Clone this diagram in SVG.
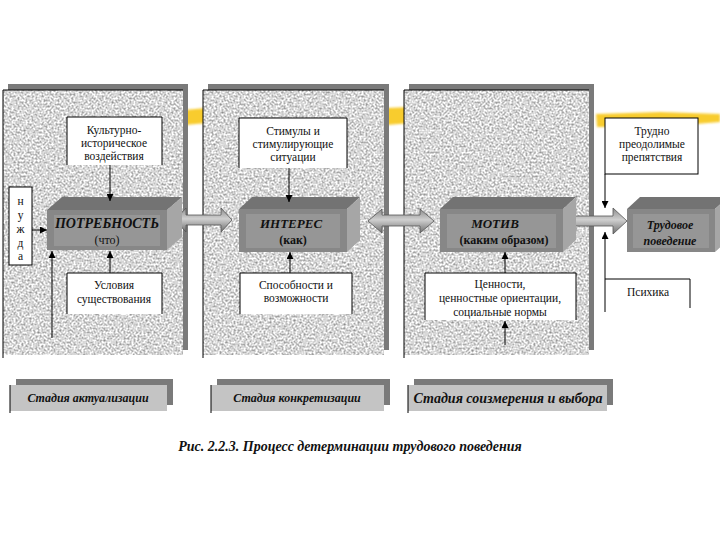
<svg xmlns="http://www.w3.org/2000/svg" width="720" height="540" viewBox="0 0 720 540">
<style>
  .t { font-family: "Liberation Serif", "DejaVu Serif", "Noto Serif", serif; fill: #111; text-anchor: middle; }
  .s11 { font-size: 11.5px; }
  .bi { font-weight: bold; font-style: italic; }
  .b { font-weight: bold; }
  .edge { stroke: #000; stroke-width: 1; fill: none; }
  .wbox { fill: #ffffff; }
  .shadow { fill: #7a7a7a; }
  .panel { fill: #d8d8d8; }
  .ftop { fill: #737373; }
  .ffront { fill: #878787; }
  .finner { fill: #969696; }
  .fside { fill: #a6a6a6; }
  .stage { fill: #c4c4c4; }
  .blk { fill: url(#blockGrad); stroke: #555; stroke-width: 0.8; }
  .yel { fill: #f7c718; opacity: 0.9; }
</style>
<defs>
  <marker id="ah" viewBox="0 0 10 10" refX="10" refY="5" markerWidth="7" markerHeight="7" orient="auto" markerUnits="userSpaceOnUse">
    <path d="M0,0 L10,5 L0,10 z" fill="#000"/>
  </marker>
  <linearGradient id="blockGrad" x1="0" y1="0" x2="0" y2="1">
    <stop offset="0" stop-color="#8a8a8a"/>
    <stop offset="0.45" stop-color="#d0d0d0"/>
    <stop offset="1" stop-color="#6e6e6e"/>
  </linearGradient>
  <filter id="grain" x="0" y="0" width="100%" height="100%" color-interpolation-filters="sRGB">
    <feTurbulence type="fractalNoise" baseFrequency="0.5" numOctaves="3" seed="7" result="n"/>
    <feColorMatrix in="n" type="matrix" values="0.85 0 0 0 0.42  0.85 0 0 0 0.42  0.85 0 0 0 0.42  0 0 0 0 1" result="g"/>
    <feComposite in="g" in2="SourceGraphic" operator="in"/>
  </filter>
  <filter id="soft" x="-20%" y="-50%" width="140%" height="200%">
    <feGaussianBlur stdDeviation="1.2"/>
  </filter>
</defs>

<!-- yellow brush streaks -->
<g id="streaks" filter="url(#soft)">
  <path class="yel" d="M184,110 L206,108 L207,123 L185,125 z"/>
  <path class="yel" d="M386,108 L410,107 L411,123 L387,125 z"/>
  <path class="yel" d="M596,114 L660,112 L720,114 L720,122 L660,127 L597,127 z"/>
</g>

<!-- panels -->
<g id="panel1">
  <rect class="shadow" x="8" y="84" width="180" height="266"/>
  <rect class="panel" x="3" y="90" width="180" height="265" filter="url(#grain)"/>
  <path class="edge" d="M3,358 L3,90 L183,90"/>
</g>
<g id="panel2">
  <rect class="shadow" x="208" y="84" width="181" height="266"/>
  <rect class="panel" x="203" y="90" width="181" height="265" filter="url(#grain)"/>
  <path class="edge" d="M203,358 L203,90 L384,90"/>
</g>
<g id="panel3">
  <rect class="shadow" x="409" y="84" width="185" height="266"/>
  <rect class="panel" x="404" y="90" width="185" height="265" filter="url(#grain)"/>
  <path class="edge" d="M404,358 L404,90 L589,90"/>
</g>

<!-- block arrows -->
<g id="blockarrows">
  <path class="blk" d="M175,220 L186,208 L186,215 L221,215 L221,208 L232,220 L221,232 L221,225 L186,225 L186,232 z"/>
  <path class="blk" d="M368,221 L382,209 L382,215 L420,215 L420,209 L434,221 L420,233 L420,226 L382,226 L382,233 z"/>
  <path class="blk" d="M568,216 L613,216 L613,208 L627,221 L613,234 L613,226 L568,226 z"/>
</g>

<!-- white boxes -->
<g id="kult">
  <rect class="wbox" x="67" y="117" width="95" height="48"/>
  <path class="edge" d="M67,165 L67,117 L162,117 L162,165"/>
  <text class="t s11" x="114" y="134">Культурно-</text>
  <text class="t s11" x="114" y="147">историческое</text>
  <text class="t s11" x="114" y="160">воздействия</text>
</g>
<g id="uslovia">
  <rect class="wbox" x="67" y="273" width="95" height="41"/>
  <path class="edge" d="M67,314 L67,273 L162,273 L162,314"/>
  <text class="t s11" x="114" y="289">Условия</text>
  <text class="t s11" x="114" y="303">существования</text>
</g>
<g id="nuzhda">
  <rect class="wbox" x="9" y="187" width="23" height="78"/>
  <rect class="edge" x="9" y="187" width="23" height="78"/>
  <text class="t s11" x="20.5" y="205">н</text>
  <text class="t s11" x="20.5" y="219">у</text>
  <text class="t s11" x="20.5" y="233">ж</text>
  <text class="t s11" x="20.5" y="247">д</text>
  <text class="t s11" x="20.5" y="260">а</text>
</g>
<g id="stimuly">
  <rect class="wbox" x="239" y="118" width="108" height="50"/>
  <path class="edge" d="M239,168 L239,118 L347,118 L347,168"/>
  <text class="t s11" x="293" y="135">Стимулы и</text>
  <text class="t s11" x="293" y="148">стимулирующие</text>
  <text class="t s11" x="293" y="161">ситуации</text>
</g>
<g id="sposobnosti">
  <rect class="wbox" x="240" y="273" width="112" height="41"/>
  <path class="edge" d="M240,314 L240,273 L352,273 L352,314"/>
  <text class="t s11" x="296" y="289">Способности и</text>
  <text class="t s11" x="296" y="302">возможности</text>
</g>
<g id="cennosti">
  <rect class="wbox" x="425" y="273" width="151" height="47"/>
  <path class="edge" d="M425,320 L425,273 L576,273 L576,320"/>
  <text class="t s11" x="500" y="288">Ценности,</text>
  <text class="t s11" x="500" y="302">ценностные ориентации,</text>
  <text class="t s11" x="500" y="316">социальные нормы</text>
</g>
<g id="trudno">
  <rect class="wbox" x="605" y="118" width="93" height="56"/>
  <rect class="edge" x="605" y="118" width="93" height="56"/>
  <text class="t s11" x="652" y="135">Трудно</text>
  <text class="t s11" x="652" y="148">преодолимые</text>
  <text class="t s11" x="652" y="161">препятствия</text>
</g>
<g id="psihika">
  <rect class="wbox" x="605" y="279" width="85" height="30"/>
  <path class="edge" d="M690,308 L690,279 L605,279"/>
  <text class="t s11" x="648" y="296">Психика</text>
</g>

<!-- 3D boxes -->
<g id="potrebnost">
  <path class="ftop" d="M47,210 L62,197 L182,197 L167,210 z"/>
  <path class="fside" d="M167,210 L182,197 L182,237 L167,250 z"/>
  <rect class="ffront" x="47" y="210" width="120" height="40"/>
  <rect class="finner" x="54" y="215" width="106" height="31"/>
  <text class="t bi" x="107" y="228" font-size="14">ПОТРЕБНОСТЬ</text>
  <text class="t" x="107" y="244" font-size="12">(что)</text>
</g>
<g id="interes">
  <path class="ftop" d="M239,209 L252,197 L360,197 L347,209 z"/>
  <path class="fside" d="M347,209 L360,197 L360,240 L347,252 z"/>
  <rect class="ffront" x="239" y="209" width="108" height="43"/>
  <rect class="finner" x="246" y="214" width="94" height="34"/>
  <text class="t bi" x="291" y="228" font-size="13">ИНТЕРЕС</text>
  <text class="t b" x="293" y="244" font-size="12">(как)</text>
</g>
<g id="motiv">
  <path class="ftop" d="M440,209 L453,197 L576,197 L563,209 z"/>
  <path class="fside" d="M563,209 L576,197 L576,240 L563,252 z"/>
  <rect class="ffront" x="440" y="209" width="123" height="43"/>
  <rect class="finner" x="447" y="214" width="109" height="34"/>
  <text class="t bi" x="495" y="228" font-size="13">МОТИВ</text>
  <text class="t b" x="504" y="244" font-size="12">(каким образом)</text>
</g>
<g id="trudovoe">
  <path class="ftop" d="M627,209 L640,197 L728,197 L715,209 z"/>
  <path class="fside" d="M715,209 L728,197 L728,240 L715,252 z"/>
  <rect class="ffront" x="627" y="209" width="88" height="43"/>
  <rect class="finner" x="633" y="214" width="76" height="34"/>
  <text class="t bi" x="670" y="229" font-size="12">Трудовое</text>
  <text class="t bi" x="670" y="245" font-size="12">поведение</text>
</g>

<!-- connectors -->
<g id="connectors" stroke="#000" stroke-width="1" fill="none">
  <line x1="110" y1="165" x2="110" y2="201" marker-end="url(#ah)"/>
  <line x1="32" y1="230" x2="47" y2="230" marker-end="url(#ah)"/>
  <line x1="52" y1="338" x2="52" y2="251" marker-end="url(#ah)"/>
  <line x1="110" y1="273" x2="110" y2="251" marker-end="url(#ah)"/>
  <line x1="289" y1="168" x2="289" y2="202" marker-end="url(#ah)"/>
  <line x1="290" y1="273" x2="290" y2="252" marker-end="url(#ah)"/>
  <line x1="505" y1="273" x2="505" y2="252" marker-end="url(#ah)"/>
  <line x1="505" y1="345" x2="505" y2="321" marker-end="url(#ah)"/>
  <line x1="605" y1="174" x2="605" y2="208" marker-end="url(#ah)"/>
  <line x1="605" y1="312" x2="605" y2="232" marker-end="url(#ah)"/>
</g>

<!-- stage labels -->
<g id="stage1">
  <rect class="shadow" x="16" y="379" width="157" height="26"/>
  <rect class="stage" x="10" y="385" width="157" height="26"/>
  <path class="edge" d="M10,413 L10,385"/>
  <text class="t bi" x="88" y="402" font-size="12">Стадия актуализации</text>
</g>
<g id="stage2">
  <rect class="shadow" x="217" y="379" width="173" height="26"/>
  <rect class="stage" x="211" y="385" width="173" height="26"/>
  <path class="edge" d="M211,413 L211,385"/>
  <text class="t bi" x="297" y="402" font-size="12">Стадия конкретизации</text>
</g>
<g id="stage3">
  <rect class="shadow" x="414" y="379" width="199" height="26"/>
  <rect class="stage" x="408" y="385" width="199" height="26"/>
  <path class="edge" d="M408,413 L408,385"/>
  <text class="t bi" x="508" y="403" font-size="14">Стадия соизмерения и выбора</text>
</g>

<text class="t bi" x="350" y="451" font-size="14">Рис. 2.2.3. Процесс детерминации трудового поведения</text>
</svg>
